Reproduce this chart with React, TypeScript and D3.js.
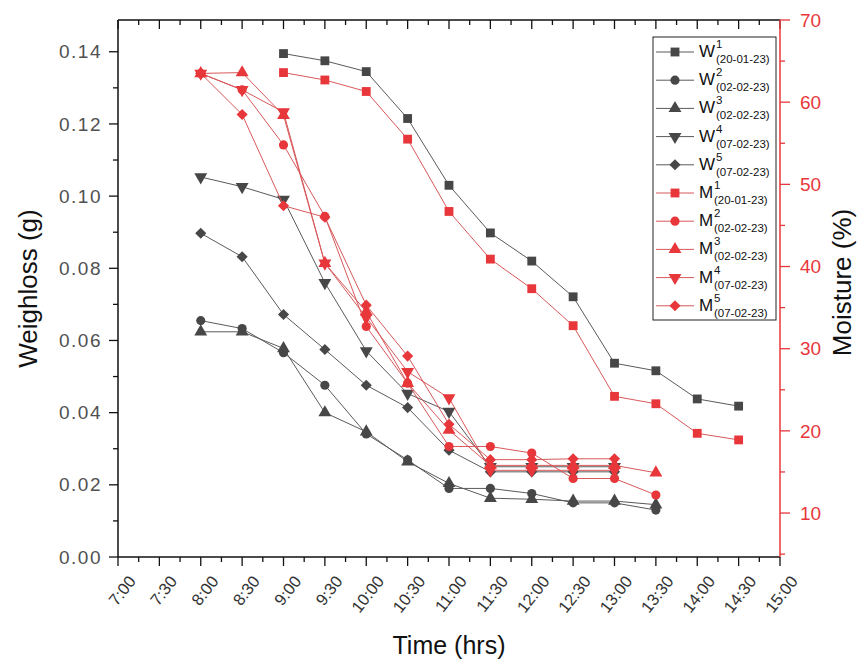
import { useEffect, useRef } from "react";
import * as d3 from "d3";

const tickLabels = ["7:00", "7:30", "8:00", "8:30", "9:00", "9:30", "10:00", "10:30", "11:00", "11:30", "12:00", "12:30", "13:00", "13:30", "14:00", "14:30", "15:00"];
const tickHours = [7, 7.5, 8, 8.5, 9, 9.5, 10, 10.5, 11, 11.5, 12, 12.5, 13, 13.5, 14, 14.5, 15];

const timesLong = [9, 9.5, 10, 10.5, 11, 11.5, 12, 12.5, 13, 13.5, 14, 14.5];
const times13 = [8, 8.5, 9, 9.5, 10, 10.5, 11, 11.5, 12, 12.5, 13];
const times1330 = [8, 8.5, 9, 9.5, 10, 10.5, 11, 11.5, 12, 12.5, 13, 13.5];

// weight loss (g)
const w1 = [0.1395, 0.1375, 0.1345, 0.1215, 0.103, 0.0898, 0.082, 0.0721, 0.0537, 0.0516, 0.0438, 0.0418];
const w2 = [0.0655, 0.0633, 0.0566, 0.0476, 0.0341, 0.0269, 0.019, 0.019, 0.0176, 0.015, 0.015, 0.013];
const w3 = [0.0624, 0.0624, 0.0578, 0.04, 0.0347, 0.0264, 0.0204, 0.0163, 0.016, 0.0155, 0.0155, 0.0145];
const w4 = [0.1053, 0.1026, 0.0991, 0.076, 0.0571, 0.0453, 0.0403, 0.025, 0.025, 0.025, 0.025];
const w5 = [0.0897, 0.0832, 0.0672, 0.0575, 0.0476, 0.0414, 0.0296, 0.0236, 0.0236, 0.0236, 0.0236];

// moisture (%)
const m1 = [63.6, 62.7, 61.3, 55.5, 46.7, 40.9, 37.3, 32.8, 24.2, 23.3, 19.7, 18.9];
const m2 = [63.5, 61.5, 54.8, 46.1, 32.7, 25.8, 18.1, 18.1, 17.3, 14.2, 14.2, 12.2];
const m3 = [63.5, 63.6, 58.4, 40.4, 34.5, 25.8, 20.1, 15.8, 15.8, 15.8, 15.8, 14.9];
const m4 = [63.5, 61.5, 58.8, 40.4, 33.8, 27.2, 24.0, 15.2, 15.2, 15.2, 15.2];
const m5 = [63.5, 58.5, 47.4, 46.0, 35.3, 29.1, 20.8, 16.5, 16.5, 16.6, 16.6];

const dates = ["(20-01-23)", "(02-02-23)", "(02-02-23)", "(07-02-23)", "(07-02-23)"];

const DARK = "#474747";
const DARK_LINE = "#5a5a5a";
const RED = "#e8373b";
const RED_LINE = "#d8585a";

export default function App() {
  const svgRef = useRef(null);

  useEffect(() => {
    const svg = d3.select(svgRef.current);
    svg.selectAll("*").remove();

    const left = 118, right = 780, top = 20, bottom = 557;
    const font = "'Liberation Sans', Arial, sans-serif";

    const x = d3.scaleLinear().domain([7, 15]).range([left, right]);
    const yW = d3.scaleLinear().domain([0, 0.1488]).range([bottom, top]);
    const yM = d3.scaleLinear().domain([4.65, 70]).range([bottom, top]);

    const symbols = [
      d3.symbol().type(d3.symbolSquare).size(78),
      d3.symbol().type(d3.symbolCircle).size(66),
      d3.symbol().type(d3.symbolTriangle).size(72),
      d3.symbol().type(d3.symbolTriangle).size(72),
      d3.symbol().type(d3.symbolSquare).size(62),
    ];
    const rot = [0, 0, 0, 180, 45];

    const wSeries = [
      { t: timesLong, v: w1 },
      { t: times1330, v: w2 },
      { t: times1330, v: w3 },
      { t: times13, v: w4 },
      { t: times13, v: w5 },
    ];
    const mSeries = [
      { t: timesLong, v: m1 },
      { t: times1330, v: m2 },
      { t: times1330, v: m3 },
      { t: times13, v: m4 },
      { t: times13, v: m5 },
    ];

    // frame: top line
    svg.append("line").attr("x1", left).attr("x2", right).attr("y1", top).attr("y2", top)
      .attr("stroke", "#111").attr("stroke-width", 1.5);

    // bottom axis
    const xMinor = d3.range(7, 15.01, 0.25);
    svg.append("line").attr("x1", left).attr("x2", right).attr("y1", bottom).attr("y2", bottom)
      .attr("stroke", "#111").attr("stroke-width", 1.5);
    svg.append("g").selectAll("line").data(xMinor).enter().append("line")
      .attr("x1", d => x(d)).attr("x2", d => x(d))
      .attr("y1", bottom).attr("y2", (d, i) => bottom + (i % 2 === 0 ? 9 : 5))
      .attr("stroke", "#111").attr("stroke-width", 1.3);
    svg.append("g").selectAll("line").data(xMinor).enter().append("line")
      .attr("x1", d => x(d)).attr("x2", d => x(d))
      .attr("y1", top).attr("y2", (d, i) => top + (i % 2 === 0 ? 9 : 5))
      .attr("stroke", "#111").attr("stroke-width", 1.3);
    svg.append("g").selectAll("text").data(tickLabels).enter().append("text")
      .attr("transform", (d, i) => `translate(${x(tickHours[i]) + 14},${bottom + 21}) rotate(-52)`)
      .attr("text-anchor", "end")
      .attr("dy", "0.35em")
      .attr("font-family", font).attr("font-size", 16.5).attr("fill", "#333")
      .text(d => d);

    // left axis
    const yMinor = d3.range(0, 0.1451, 0.01);
    svg.append("line").attr("x1", left).attr("x2", left).attr("y1", top).attr("y2", bottom)
      .attr("stroke", "#111").attr("stroke-width", 1.5);
    svg.append("g").selectAll("line").data(yMinor).enter().append("line")
      .attr("x1", left).attr("x2", (d, i) => left - (i % 2 === 0 ? 9 : 5))
      .attr("y1", d => yW(d)).attr("y2", d => yW(d))
      .attr("stroke", "#111").attr("stroke-width", 1.3);
    svg.append("g").selectAll("text").data(d3.range(0, 0.1451, 0.02)).enter().append("text")
      .attr("x", left - 16).attr("y", d => yW(d)).attr("dy", "0.35em")
      .attr("text-anchor", "end").attr("letter-spacing", 1.5)
      .attr("font-family", font).attr("font-size", 19).attr("fill", "#505050")
      .text(d => d3.format(".2f")(d));

    // right axis
    svg.append("line").attr("x1", right).attr("x2", right).attr("y1", top).attr("y2", bottom)
      .attr("stroke", RED).attr("stroke-width", 1.5);
    svg.append("g").selectAll("line").data(d3.range(5, 70.1, 5)).enter().append("line")
      .attr("x1", right).attr("x2", (d, i) => right + (i % 2 === 1 ? 10 : 5))
      .attr("y1", d => yM(d)).attr("y2", d => yM(d))
      .attr("stroke", RED).attr("stroke-width", 1.3);
    svg.append("g").selectAll("text").data(d3.range(10, 70.1, 10)).enter().append("text")
      .attr("x", right + 20).attr("y", d => yM(d)).attr("dy", "0.35em")
      .attr("font-family", font).attr("font-size", 19).attr("fill", RED)
      .text(d => d);

    // titles
    svg.append("text").attr("transform", `translate(37,${(top + bottom) / 2}) rotate(-90)`)
      .attr("text-anchor", "middle").attr("font-family", font).attr("font-size", 26).attr("fill", "#111")
      .text("Weighloss (g)");
    svg.append("text").attr("transform", `translate(851,${(top + bottom) / 2 - 6}) rotate(-90)`)
      .attr("text-anchor", "middle").attr("font-family", font).attr("font-size", 26).attr("fill", "#111")
      .text("Moisture (%)");
    svg.append("text").attr("x", 449).attr("y", 654)
      .attr("text-anchor", "middle").attr("font-family", font).attr("font-size", 25).attr("fill", "#111")
      .text("Time (hrs)");

    const drawSeries = (list, yScale, lineColor, markColor) => {
      list.forEach((s) => {
        const pts = s.v.map((v, i) => [x(s.t[i]), yScale(v)]);
        svg.append("path").attr("d", d3.line()(pts))
          .attr("fill", "none").attr("stroke", lineColor).attr("stroke-width", 1);
      });
      list.forEach((s, k) => {
        svg.append("g").selectAll("path").data(s.v).enter().append("path")
          .attr("d", symbols[k]())
          .attr("transform", (v, i) => `translate(${x(s.t[i])},${yScale(v)}) rotate(${rot[k]})`)
          .attr("fill", markColor);
      });
    };

    drawSeries(wSeries, yW, DARK_LINE, DARK);
    drawSeries(mSeries, yM, RED_LINE, RED);

    // legend
    const lg = svg.append("g");
    lg.append("rect").attr("x", 653).attr("y", 37).attr("width", 123).attr("height", 283)
      .attr("fill", "white").attr("stroke", "#222").attr("stroke-width", 1);
    const entries = [];
    for (let i = 0; i < 5; i++) entries.push({ letter: "W", n: i + 1, date: dates[i], k: i, dark: true });
    for (let i = 0; i < 5; i++) entries.push({ letter: "M", n: i + 1, date: dates[i], k: i, dark: false });
    entries.forEach((e, j) => {
      const cy = 52 + j * 28.2;
      const sx = e.letter === "W" ? 716 : 714;
      lg.append("line").attr("x1", 656).attr("x2", 694).attr("y1", cy).attr("y2", cy)
        .attr("stroke", e.dark ? DARK_LINE : RED_LINE).attr("stroke-width", 1);
      lg.append("path").attr("d", symbols[e.k]())
        .attr("transform", `translate(675,${cy}) rotate(${rot[e.k]})`)
        .attr("fill", e.dark ? DARK : RED);
      lg.append("text").attr("x", 699).attr("y", cy + 5)
        .attr("font-family", font).attr("font-size", 17).attr("fill", "#111")
        .text(e.letter);
      lg.append("text").attr("x", sx).attr("y", cy - 4)
        .attr("font-family", font).attr("font-size", 11.5).attr("fill", "#111")
        .text(e.n);
      lg.append("text").attr("x", sx).attr("y", cy + 11)
        .attr("font-family", font).attr("font-size", 11.5).attr("fill", "#111")
        .text(e.date);
    });
  }, []);

  return (
    <svg ref={svgRef} width={859} height={662}
      style={{ position: "absolute", left: 0, top: 0, background: "white" }} />
  );
}
